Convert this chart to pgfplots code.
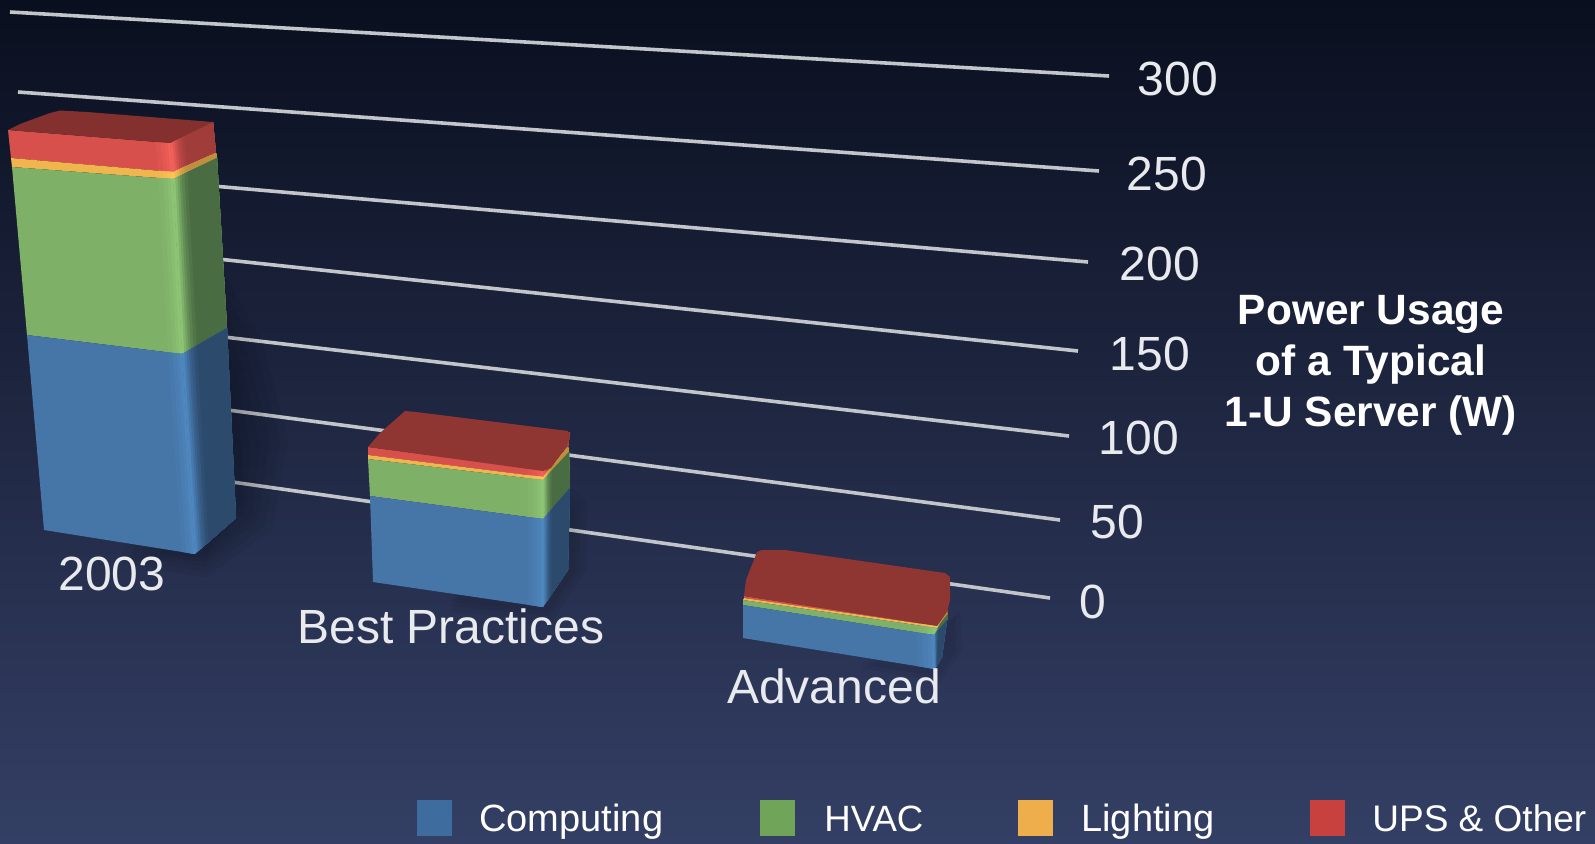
\documentclass[border=0pt]{standalone}
\usepackage{pgfplots}
\pgfplotsset{compat=1.18}
\usepackage{fontspec}
\setmainfont{Liberation Sans}
\definecolor{cb}{HTML}{4676A8}\definecolor{cbL}{HTML}{4E86BE}\definecolor{cbD}{HTML}{2C4A6C}
\definecolor{cg}{HTML}{7EB067}\definecolor{cgL}{HTML}{8CC474}\definecolor{cgD}{HTML}{4A6C42}
\definecolor{cy}{HTML}{F0B54C}\definecolor{cyL}{HTML}{FCC455}\definecolor{cyD}{HTML}{C08F3E}
\definecolor{cr}{HTML}{D8504B}\definecolor{crL}{HTML}{F2605A}\definecolor{crD}{HTML}{A03C3A}
\definecolor{topA}{HTML}{84302F}\definecolor{topB}{HTML}{8F3633}
\definecolor{gridc}{HTML}{C2C5CA}\definecolor{labc}{HTML}{E8EAEE}
\definecolor{legB}{HTML}{3E6C9F}\definecolor{legG}{HTML}{6FA459}\definecolor{legY}{HTML}{EDAE4B}\definecolor{legR}{HTML}{C8413F}
\definecolor{bgT}{HTML}{0A0F1F}\definecolor{bgM}{HTML}{1D2744}\definecolor{bgB}{HTML}{343F65}
\newcommand\poly[2]{\addplot[draw=none,fill=#1,forget plot] coordinates {#2} -- cycle;}
\newcommand\gridl[4]{\addplot[gridc,line width=1.8pt,forget plot] coordinates {(#1,#2)(#3,#4)};}
\newcommand\softsh[1]{\addplot[draw=none,fill=black,fill opacity=0.045,forget plot] coordinates {#1} -- cycle;}
\newcommand\setedge[6]{\def\pLx{#1}\def\pLy{#2}\def\pCx{#3}\def\pCy{#4}\def\pRx{#5}\def\pRy{#6}}
% one step of the highlight on the front face, running from fraction f to the corner
\newcommand\frontstep[2]{%
  \pgfmathsetmacro\tFx{\pCx-#1*(\pCx-\pLx)}\pgfmathsetmacro\tFy{\pCy-#1*(\pCy-\pLy)}%
  \pgfmathsetmacro\bFx{\nCx-#1*(\nCx-\nLx)}\pgfmathsetmacro\bFy{\nCy-#1*(\nCy-\nLy)}%
  \poly{#2}{(\tFx,\tFy)(\pCx,\pCy)(\nCx,\nCy)(\bFx,\bFy)}}
% one step of the darkening on the side face, running from fraction u to the far edge
\newcommand\sidestep[2]{%
  \pgfmathsetmacro\tGx{\pCx+#1*(\pRx-\pCx)}\pgfmathsetmacro\tGy{\pCy+#1*(\pRy-\pCy)}%
  \pgfmathsetmacro\bGx{\nCx+#1*(\nRx-\nCx)}\pgfmathsetmacro\bGy{\nCy+#1*(\nRy-\nCy)}%
  \poly{#2}{(\tGx,\tGy)(\pRx,\pRy)(\nRx,\nRy)(\bGx,\bGy)}}
\newcommand\barlayer[7]{%
  \def\nLx{#2}\def\nLy{#3}\def\nCx{#4}\def\nCy{#5}\def\nRx{#6}\def\nRy{#7}%
  \poly{#1}{(\pLx,\pLy)(\pCx,\pCy)(\nCx,\nCy)(\nLx,\nLy)}
  \frontstep{0.09}{#1!80!#1L}
  \frontstep{0.06}{#1!55!#1L}
  \frontstep{0.035}{#1!30!#1L}
  \frontstep{0.015}{#1L}
  \sidestep{0}{#1L}
  \sidestep{0.05}{#1L!80!#1D}
  \sidestep{0.10}{#1L!60!#1D}
  \sidestep{0.15}{#1L!40!#1D}
  \sidestep{0.20}{#1L!25!#1D}
  \sidestep{0.26}{#1L!10!#1D}
  \sidestep{0.33}{#1D}
  \setedge{#2}{#3}{#4}{#5}{#6}{#7}%
}
\begin{document}
\begin{tikzpicture}
\begin{axis}[
  scale only axis, width=797.5pt, height=421.5pt,
  xmin=0, xmax=1595, ymin=0, ymax=843, y dir=reverse,
  hide axis, no markers
]
\path[top color=bgT, middle color=bgM, bottom color=bgB] (axis cs:0,0) rectangle (axis cs:1595,843);

% grid lines: value 300, 250, ... 0
\gridl{10}{12}{1109}{76}
\gridl{18}{92}{1099}{171}
\gridl{190}{184}{1088}{262}
\gridl{190}{256}{1078}{351}
\gridl{190}{333}{1069}{436}
\gridl{190}{405}{1060}{520}
\gridl{190}{476}{1050}{598}

% soft shadows
\softsh{(210,250)(262,340)(288,440)(272,530)(205,578)(120,562)}
\softsh{(212,270)(255,345)(280,440)(265,525)(205,572)(130,560)}
\softsh{(214,290)(248,355)(270,440)(258,520)(205,566)(140,558)}
\softsh{(216,310)(242,365)(260,445)(252,515)(205,562)(150,556)}
\softsh{(218,325)(238,380)(250,450)(246,510)(205,558)(160,554)}
\softsh{(220,335)(234,395)(243,455)(242,505)(205,556)}
\softsh{(552,470)(586,500)(586,570)(552,622)(450,612)}
\softsh{(552,475)(580,505)(580,572)(550,616)(450,606)}
\softsh{(552,480)(575,510)(575,572)(548,612)(450,602)}
\softsh{(930,640)(960,610)(962,650)(940,682)(860,668)}
\softsh{(930,640)(955,615)(956,652)(938,677)(860,664)}

% 2003
\setedge{8}{130}{170}{143}{213}{122}
\barlayer{cr}{11}{158}{173}{172}{216}{153}
\barlayer{cy}{12}{167}{173}{179}{217}{158}
\barlayer{cg}{27}{335}{182}{354}{227}{328}
\barlayer{cb}{44}{530}{195}{554}{236}{518}
\poly{topA}{(8,130)(20,124)(50,113)(60,110.5)(87,112)(213,122)(170,143)}

% Best Practices
\setedge{368}{447}{543}{470}{570}{432}
\barlayer{cr}{368}{455}{543}{477}{568}{447}
\barlayer{cy}{368}{459}{543}{480}{569}{452}
\barlayer{cg}{370}{496}{543}{519}{570}{488}
\barlayer{cb}{373}{582}{543}{607}{568}{570}
\poly{topB}{(368,447)(380,433)(405,411)(416,412)(568,431)(570,436)(566,447)(551,468)(543,471)}

% Advanced
\setedge{744}{596}{935}{625}{948}{610}
\barlayer{cr}{744}{598}{937}{626}{947}{612}
\barlayer{cy}{743}{600}{937}{628}{947}{615}
\barlayer{cg}{743}{605}{934}{635}{947}{620}
\barlayer{cb}{743}{638}{935}{669}{942}{657}
\poly{topB}{(744,596)(746,580)(757,552)(762,550)(785,550)(945,573)(950,577)(950,600)(947,612)(937,626)}

% legend
\poly{legB}{(417,800)(452,800)(452,836)(417,836)}
\poly{legG}{(760,800)(795,800)(795,836)(760,836)}
\poly{legY}{(1018,800)(1053,800)(1053,836)(1018,836)}
\poly{legR}{(1310,800)(1345,800)(1345,836)(1310,836)}

\tikzset{ax/.style={inner sep=0pt,outer sep=0pt,text=labc,font=\fontsize{24}{24}\selectfont}}
\node[ax] at (axis cs:1178,79) {300};
\node[ax] at (axis cs:1167,174) {250};
\node[ax] at (axis cs:1160,264) {200};
\node[ax] at (axis cs:1150,354) {150};
\node[ax] at (axis cs:1139,438) {100};
\node[ax] at (axis cs:1117,522) {50};
\node[ax] at (axis cs:1093,602) {0};
\node[ax] at (axis cs:112,574) {2003};
\node[ax] at (axis cs:451,626) {Best Practices};
\node[ax] at (axis cs:834,686) {Advanced};
\node[inner sep=0pt,text=white,align=center,font=\fontsize{21.2}{25.5}\selectfont\bfseries] at (axis cs:1371,365) {Power Usage\\of a Typical\\1-U Server (W)};
\tikzset{lg/.style={inner sep=0pt,text=white,anchor=base west,font=\fontsize{19}{19}\selectfont}}
\node[lg] at (axis cs:479,831) {Computing};
\node[lg,font=\fontsize{18.3}{19}\selectfont] at (axis cs:824,831) {HVAC};
\node[lg] at (axis cs:1081,831) {Lighting};
\node[lg,font=\fontsize{18.5}{19}\selectfont] at (axis cs:1372,831) {UPS \& Other};
\end{axis}
\end{tikzpicture}
\end{document}
